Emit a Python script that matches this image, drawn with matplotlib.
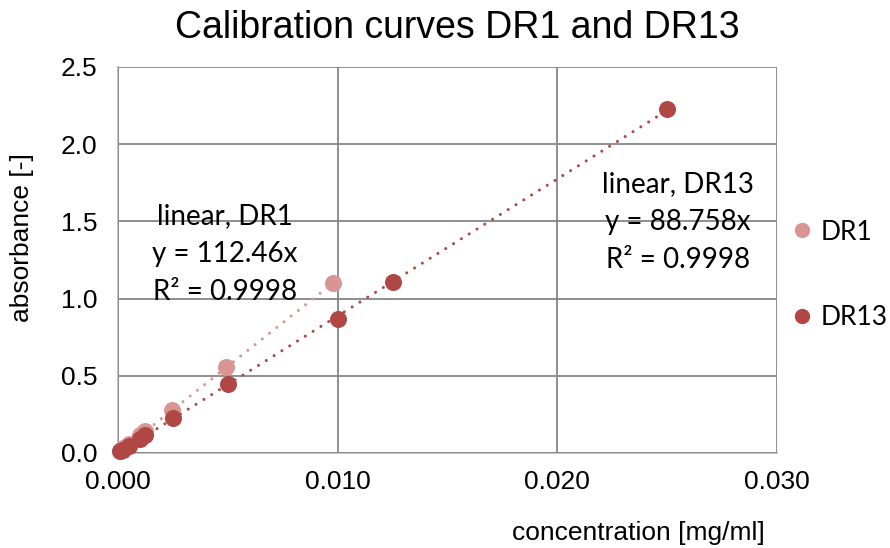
import matplotlib
matplotlib.use("Agg")
import matplotlib.pyplot as plt
from matplotlib.lines import Line2D
import numpy as np

# ---- data ----
dr1_conc = [0.0001, 0.00025, 0.0005, 0.00098, 0.00122, 0.00245, 0.0049, 0.0098]
dr1_abs = [0.012, 0.03, 0.06, 0.115, 0.145, 0.28, 0.56, 1.10]
dr13_conc = [0.0001, 0.00025, 0.0005, 0.001, 0.00125, 0.0025, 0.005, 0.01, 0.0125, 0.025]
dr13_abs = [0.01, 0.022, 0.045, 0.09, 0.115, 0.225, 0.445, 0.867, 1.11, 2.23]
dr1_slope = 112.46
dr13_slope = 88.758
dr1_r2 = 0.9998
dr13_r2 = 0.9998
x_ticks = [0.000, 0.010, 0.020, 0.030]
y_ticks = [0.0, 0.5, 1.0, 1.5, 2.0, 2.5]
title = "Calibration curves DR1 and DR13"
x_label = "concentration [mg/ml]"
y_label = "absorbance [-]"

c_dr1 = "#D99594"
c_dr13 = "#B04744"

fig = plt.figure(figsize=(8.9, 5.48), dpi=100)
ax = fig.add_axes([118/890, 1-453/548, (777-118)/890, (453-67)/548])

ax.set_xlim(0, 0.030)
ax.set_ylim(0, 2.5)
ax.set_xticks(x_ticks)
ax.set_yticks(y_ticks)
ax.set_xticklabels([f"{v:.3f}" for v in x_ticks])
ax.set_yticklabels([f"{v:.1f}" for v in y_ticks])
ax.tick_params(length=0, labelsize=19)
ax.tick_params(axis="y", pad=15)
ax.tick_params(axis="x", pad=12)
for lab in ax.get_xticklabels() + ax.get_yticklabels():
    lab.set_family(["Liberation Sans", "DejaVu Sans"])

ax.grid(True, color="#868686", linewidth=1.3)
ax.set_axisbelow(True)
for s in ["top", "right"]:
    ax.spines[s].set_visible(False)
for s in ["left", "bottom"]:
    ax.spines[s].set_color("#BFBFBF")
    ax.spines[s].set_linewidth(1.3)
    ax.spines[s].set_zorder(0.5)

# trendlines
xx1 = np.array([0, max(dr1_conc)])
xx13 = np.array([0, max(dr13_conc)])
dot = (0, (0.01, 3.0))
ax.plot(xx1, dr1_slope * xx1, color=c_dr1, lw=2.2, linestyle=dot,
        dash_capstyle="round", zorder=2)
ax.plot(xx13, dr13_slope * xx13, color=c_dr13, lw=2.2, linestyle=dot,
        dash_capstyle="round", zorder=2)

ax.scatter(dr1_conc, dr1_abs, s=150, color=c_dr1, zorder=3, linewidths=0, clip_on=False)
ax.scatter(dr13_conc, dr13_abs, s=150, color=c_dr13, zorder=4, linewidths=0, clip_on=False)

tfont = ["Lato", "DejaVu Sans"]
ax.text((225-118)/659, (453-254)/386,
        f"linear, DR1\ny = {dr1_slope}x\nR² = {dr1_r2}",
        transform=ax.transAxes, ha="center", va="center", fontsize=20,
        family=tfont, linespacing=1.55, zorder=5)
ax.text((678-118)/659, (453-222)/386,
        f"linear, DR13\ny = {dr13_slope}x\nR² = {dr13_r2}",
        transform=ax.transAxes, ha="center", va="center", fontsize=20,
        family=tfont, linespacing=1.55, zorder=5)

fig.text(457/890, 1-28/548, title, ha="center", va="center", fontsize=27,
         family=["Liberation Sans", "DejaVu Sans"])
fig.text(638/890, 1-533/548, x_label, ha="center", va="center", fontsize=19,
         family=["Liberation Sans", "DejaVu Sans"])
fig.text(22/890, 1-238/548, y_label, ha="center", va="center", fontsize=19,
         rotation=90, family=["Liberation Sans", "DejaVu Sans"])

handles = [Line2D([], [], marker="o", linestyle="none", color=c_dr1, markersize=10),
           Line2D([], [], marker="o", linestyle="none", color=c_dr13, markersize=10)]
leg = fig.legend(handles, ["DR1", "DR13"], loc="center left",
                 bbox_to_anchor=(776/890, 1-275/548), frameon=False,
                 prop={"family": tfont, "size": 19}, labelspacing=2.3,
                 handletextpad=0.2, handlelength=1.0, borderpad=0)

fig.savefig("out.png", dpi=100)
